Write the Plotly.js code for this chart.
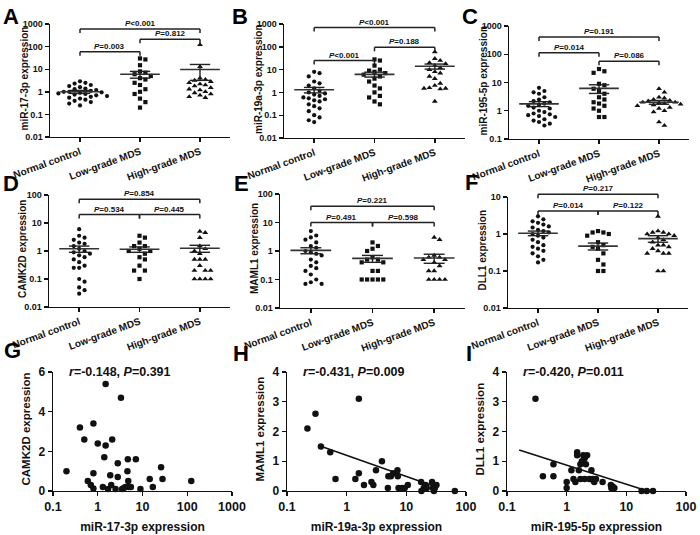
<!DOCTYPE html>
<html><head><meta charset="utf-8">
<script src="https://cdn.plot.ly/plotly-3.0.1.min.js"></script>
<style>html,body{margin:0;padding:0;background:#fff}#chart{width:700px;height:535px}</style>
</head><body><div id="chart"></div>
<script>
// ---------- DATA ----------
const groupNames = ["Normal control", "Low-grade MDS", "High-grade MDS"];

// A: miR-17-3p
const mir17Normal = [2.9, 2.5, 2.3, 2.0, 1.8, 1.6, 1.4, 1.3, 1.2, 1.1, 1.0, 1.0, 0.95, 0.9, 0.85, 0.8, 0.75, 0.7, 0.65, 0.6, 0.55, 0.5, 0.45, 0.4, 0.35, 0.3, 0.25];
const mir17Low = [30, 27, 15, 8, 7, 6, 5, 4, 3.5, 2.5, 2, 1.3, 1, 0.8, 0.5, 0.35, 0.2];
const mir17High = [120, 13, 4, 3.5, 3.2, 2.8, 2.5, 2.2, 2, 1.8, 1.5, 1.3, 1.2, 1.0, 0.9, 0.8, 0.7, 0.6, 0.55];
const mir17Mean = [1.0, 6.0, 9.7];
const mir17Sem = [0.15, 2.0, 6.5];
const mir17PLevels = [600, 59, 210];
const mir17PLabels = ["<i>P</i>&lt;0.001", "<i>P</i>=0.003", "<i>P</i>=0.812"];

// B: miR-19a-3p
const mir19Normal = [8, 7, 5, 3, 2.5, 2, 1.5, 1.2, 1.0, 0.9, 0.8, 0.7, 0.6, 0.55, 0.5, 0.45, 0.4, 0.3, 0.25, 0.2, 0.15, 0.1, 0.08, 0.06, 0.05];
const mir19Low = [28, 25, 15, 10, 9, 8, 7, 6, 5, 4, 3, 2, 1.5, 1.0, 0.7, 0.6, 0.4, 0.3];
const mir19High = [60, 30, 25, 20, 18, 15, 12, 10, 8, 7, 5, 4, 2.5, 2, 1.6, 1.5, 1.5, 1.4, 0.4];
const mir19Mean = [1.3, 6.2, 14];
const mir19Sem = [0.35, 1.5, 3.5];
const mir19PLevels = [700, 25, 95];
const mir19PLabels = ["<i>P</i>&lt;0.001", "<i>P</i>&lt;0.001", "<i>P</i>=0.188"];

// C: miR-195-5p
const mir195Normal = [6.5, 5, 4.5, 4, 3, 2.5, 2.2, 2, 1.8, 1.6, 1.5, 1.3, 1.2, 1.0, 0.9, 0.8, 0.75, 0.7, 0.65, 0.6, 0.5, 0.45, 0.4, 0.35, 0.3];
const mir195Low = [30, 25, 22, 9, 8, 6, 5, 4, 3, 2.5, 2, 1.8, 1.5, 1.2, 1, 0.6, 0.6];
const mir195High = [6, 4.5, 3, 2.8, 2.5, 2.3, 2.2, 2, 2, 1.9, 1.8, 1.7, 1.6, 1.5, 1.3, 1.2, 1.0, 0.9, 0.4, 0.3];
const mir195Mean = [1.75, 6.2, 2.0];
const mir195Sem = [0.35, 2.1, 0.3];
const mir195PLevels = [410, 112, 57];
const mir195PLabels = ["<i>P</i>=0.191", "<i>P</i>=0.014", "<i>P</i>=0.086"];

// D: CAMK2D
const camkNormal = [6, 3.5, 3, 2.5, 2, 1.8, 1.5, 1.2, 1.0, 0.9, 0.8, 0.7, 0.6, 0.5, 0.4, 0.3, 0.25, 0.25, 0.1, 0.08, 0.05, 0.04, 0.03];
const camkLow = [3.5, 3, 2, 1.5, 1.5, 1.2, 1.0, 1.0, 0.8, 0.6, 0.5, 0.3, 0.2, 0.2, 0.1];
const camkHigh = [5, 4.5, 3, 1.5, 1.2, 1.0, 0.8, 0.5, 0.5, 0.5, 0.3, 0.2, 0.2, 0.2, 0.1, 0.1, 0.1, 0.1];
const camkMean = [1.2, 1.15, 1.25];
const camkSem = [0.3, 0.25, 0.35];
const camkPLevels = [70, 20, 20];
const camkPLabels = ["<i>P</i>=0.854", "<i>P</i>=0.534", "<i>P</i>=0.445"];

// E: MAML1
const mamlNormal = [5, 3.5, 3, 2.5, 2, 1.5, 1.3, 1.0, 0.9, 0.8, 0.7, 0.5, 0.4, 0.3, 0.25, 0.2, 0.15, 0.1, 0.08, 0.07, 0.07];
const mamlLow = [2, 1.5, 1.2, 1.0, 0.6, 0.5, 0.5, 0.4, 0.4, 0.2, 0.2, 0.1, 0.1, 0.1, 0.1, 0.1];
const mamlHigh = [3, 2.5, 0.7, 0.6, 0.6, 0.5, 0.5, 0.4, 0.3, 0.2, 0.2, 0.1, 0.1, 0.1, 0.1];
const mamlMean = [1.05, 0.55, 0.57];
const mamlSem = [0.25, 0.15, 0.2];
const mamlPLevels = [37, 10, 10];
const mamlPLabels = ["<i>P</i>=0.221", "<i>P</i>=0.491", "<i>P</i>=0.598"];

// F: DLL1
const dllNormal = [3, 2.5, 2.2, 2, 1.8, 1.6, 1.5, 1.3, 1.2, 1.1, 1.0, 0.9, 0.8, 0.7, 0.6, 0.5, 0.45, 0.4, 0.35, 0.3, 0.25, 0.2, 0.17];
const dllLow = [1.2, 1.1, 1.1, 1.0, 0.9, 0.6, 0.5, 0.45, 0.4, 0.3, 0.2, 0.15, 0.1, 0.1];
const dllHigh = [3, 1.2, 1.1, 1.1, 1.0, 1.0, 0.9, 0.8, 0.7, 0.6, 0.5, 0.5, 0.45, 0.4, 0.35, 0.3, 0.3, 0.3, 0.1, 0.1];
const dllMean = [1.05, 0.47, 0.75];
const dllSem = [0.15, 0.1, 0.15];
const dllPLevels = [11.8, 4.2, 4.2];
const dllPLabels = ["<i>P</i>=0.217", "<i>P</i>=0.014", "<i>P</i>=0.122"];

// G: miR-17-3p vs CAMK2D
const gX = [0.2, 0.4, 0.5, 0.6, 0.7, 0.8, 0.8, 0.8, 1.0, 1.3, 1.4, 1.5, 1.5, 1.7, 1.9, 2.0, 2.1, 2.5, 2.8, 2.8, 3.3, 3.5, 3.9, 4.2, 4.6, 4.7, 4.8, 4.9, 5.5, 7.1, 9.0, 14.5, 17, 26, 28, 123];
const gY = [1.0, 3.2, 2.6, 0.5, 0.3, 0.9, 3.4, 0.13, 2.4, 0.2, 1.7, 2.3, 5.4, 0.1, 0.8, 0.3, 2.6, 0.1, 1.4, 0.7, 4.7, 0.1, 0.17, 0.2, 1.0, 1.6, 0.5, 0.2, 0.2, 1.6, 0.1, 0.6, 0.2, 1.2, 0.6, 0.5];
const gStat = "<i>r</i>=-0.148, <i>P</i>=0.391";

// H: miR-19a-3p vs MAML1
const hX = [0.22, 0.30, 0.37, 0.53, 0.65, 1.4, 1.6, 1.6, 1.95, 2.6, 2.8, 3.1, 3.9, 4.9, 5.0, 5.5, 6.0, 7.1, 7.2, 7.4, 8.5, 9.4, 10.6, 17.7, 17.9, 19.6, 21, 22, 27, 28, 29, 30, 32, 65];
const hY = [2.1, 2.6, 1.5, 1.3, 0.4, 0.4, 0.6, 3.1, 0.2, 0.3, 0.2, 0.7, 1.0, 0.1, 0.5, 0.5, 0.6, 0.7, 0.5, 0.1, 0.1, 0.1, 0.2, 0.3, 0.0, 0.1, 0.2, 0.1, 0.3, 0.1, 0.0, 0.1, 0.2, 0.0];
const hFitX = [0.36, 30];
const hFitY = [1.51, 0.15];
const hStat = "<i>r</i>=-0.431, <i>P</i>=0.009";

// I: miR-195-5p vs DLL1
const iX = [0.3, 0.4, 0.6, 0.6, 1.0, 1.0, 1.2, 1.3, 1.4, 1.5, 1.5, 1.6, 1.7, 1.7, 1.8, 1.9, 2.0, 2.0, 2.1, 2.2, 2.4, 2.6, 2.7, 2.8, 2.9, 3.1, 4.0, 5.5, 5.6, 5.9, 6.3, 18, 22, 28];
const iY = [3.1, 0.5, 0.9, 0.5, 0.3, 0.1, 0.7, 0.4, 0.3, 1.3, 1.2, 0.7, 0.4, 0.9, 1.0, 1.2, 0.4, 1.1, 0.9, 1.2, 0.4, 0.7, 0.4, 0.35, 0.3, 0.4, 0.3, 0.2, 0.1, 0.15, 0.1, 0.0, 0.0, 0.0];
const iFitX = [0.16, 19.5];
const iFitY = [1.38, 0.04];
const iStat = "<i>r</i>=-0.420, <i>P</i>=0.011";

// ---------- LAYOUT HELPERS ----------
const W = 700, H = 535;
const FONT = "Liberation Sans, Arial, Helvetica, sans-serif";
const INK = "#111";
const bracketPairs = [[0, 2], [0, 1], [1, 2]];
const markerSymbols = ["circle", "square", "triangle-up"];
const markerSizes = [4.2, 4.2, 5.2];

function dom(px0, px1) { return [px0 / W, px1 / W]; }
function domY(top, bottom) { return [1 - bottom / H, 1 - top / H]; }

const groupPanels = [
  {id: "", name: "miR-17-3p expression", groups: [mir17Normal, mir17Low, mir17High], mean: mir17Mean, sem: mir17Sem, pl: mir17PLevels, pt: mir17PLabels, yr: [-2, 3], xd: dom(50, 230), yd: domY(24, 137)},
  {id: "2", name: "miR-19a-3p expression", groups: [mir19Normal, mir19Low, mir19High], mean: mir19Mean, sem: mir19Sem, pl: mir19PLevels, pt: mir19PLabels, yr: [-2, 3], xd: dom(284, 465), yd: domY(24, 138)},
  {id: "3", name: "miR-195-5p expression", groups: [mir195Normal, mir195Low, mir195High], mean: mir195Mean, sem: mir195Sem, pl: mir195PLevels, pt: mir195PLabels, yr: [-1, 3], xd: dom(509, 689), yd: domY(26, 139)},
  {id: "4", name: "CAMK2D expression", groups: [camkNormal, camkLow, camkHigh], mean: camkMean, sem: camkSem, pl: camkPLevels, pt: camkPLabels, yr: [-2, 2], xd: dom(49, 230), yd: domY(195, 307)},
  {id: "5", name: "MAML1 expression", groups: [mamlNormal, mamlLow, mamlHigh], mean: mamlMean, sem: mamlSem, pl: mamlPLevels, pt: mamlPLabels, yr: [-2, 2], xd: dom(280, 465), yd: domY(194, 308)},
  {id: "6", name: "DLL1 expression", groups: [dllNormal, dllLow, dllHigh], mean: dllMean, sem: dllSem, pl: dllPLevels, pt: dllPLabels, yr: [-2, 1], xd: dom(508, 688), yd: domY(197, 308)}
];

const corrPanels = [
  {id: "7", x: gX, y: gY, fx: null, fy: null, stat: gStat, xname: "miR-17-3p expression", yname: "CAMK2D expression", xr: [-1, 3], xt: [0.1, 1, 10, 100, 1000], yr: [0, 6], yt: [0, 2, 4, 6], xd: dom(53, 232), yd: domY(372, 491)},
  {id: "8", x: hX, y: hY, fx: hFitX, fy: hFitY, stat: hStat, xname: "miR-19a-3p expression", yname: "MAML1 expression", xr: [-1, 2], xt: [0.1, 1, 10, 100], yr: [0, 4], yt: [0, 1, 2, 3, 4], xd: dom(287, 466), yd: domY(372, 491)},
  {id: "9", x: iX, y: iY, fx: iFitX, fy: iFitY, stat: iStat, xname: "miR-195-5p expression", yname: "DLL1 expression", xr: [-1, 2], xt: [0.1, 1, 10, 100], yr: [0, 4], yt: [0, 1, 2, 3, 4], xd: dom(507, 686), yd: domY(372, 491)}
];

// simple beeswarm in pixel space -> category-unit offsets
function swarm(vals, ppd, ppc, diam) {
  const order = vals.map((v, i) => i).sort((a, b) => vals[b] - vals[a]);
  const placed = [];
  const offs = new Array(vals.length).fill(0);
  for (const i of order) {
    const y = Math.log10(vals[i]) * ppd;
    let chosen = 0;
    for (let t = 0; t < 40; t++) {
      const off = t === 0 ? 0 : (t % 2 === 1 ? 1 : -1) * Math.ceil(t / 2) * diam;
      let ok = true;
      for (const p of placed) {
        const dx = off - p.x, dy = y - p.y;
        if (dx * dx + dy * dy < diam * diam * 0.95) { ok = false; break; }
      }
      if (ok) { chosen = off; break; }
    }
    placed.push({x: chosen, y: y});
    offs[i] = chosen / ppc;
  }
  return offs;
}

const data = [];
const layout = {
  width: W, height: H, margin: {l: 0, r: 0, t: 0, b: 0},
  paper_bgcolor: "#fff", plot_bgcolor: "rgba(0,0,0,0)",
  showlegend: false, font: {family: FONT, color: INK},
  shapes: [], annotations: []
};

function baseAxis() {
  return {showline: true, linecolor: INK, linewidth: 1.4, ticks: "outside", ticklen: 4, tickwidth: 1.4, tickcolor: INK,
    showgrid: false, zeroline: false, mirror: false, fixedrange: true};
}

function yTitle(text, xd, yd, gap, size) {
  layout.annotations.push({xref: "paper", yref: "paper", x: xd[0] - gap / W, y: (yd[0] + yd[1]) / 2 + 2 / H,
    xanchor: "center", yanchor: "middle", textangle: -90, showarrow: false, text: text,
    font: {family: FONT, size: size, weight: "bold", color: INK}});
}

groupPanels.forEach(p => {
  const xa = "x" + p.id, ya = "y" + p.id;
  const hpx = (p.yd[1] - p.yd[0]) * H, wpx = (p.xd[1] - p.xd[0]) * W;
  const ppd = hpx / (p.yr[1] - p.yr[0]);
  const ppc = wpx / 3;
  p.groups.forEach((vals, g) => {
    const offs = swarm(vals, ppd, ppc, 5.4);
    data.push({type: "scatter", mode: "markers", xaxis: xa, yaxis: ya, cliponaxis: false,
      x: vals.map((v, i) => g + offs[i]), y: vals,
      marker: {symbol: markerSymbols[g], size: markerSizes[g], color: INK, line: {width: 0}}, hoverinfo: "skip"});
  });
  // mean and SEM
  const mx = [], my = [], sx = [], sy = [];
  p.mean.forEach((m, g) => {
    mx.push(g - 0.33, g + 0.33, null); my.push(m, m, null);
    const lo = m - p.sem[g], hi = m + p.sem[g];
    sx.push(g - 0.17, g + 0.17, null, g, g, null, g - 0.17, g + 0.17, null);
    sy.push(hi, hi, null, hi, lo, null, lo, lo, null);
  });
  data.push({type: "scatter", mode: "lines", xaxis: xa, yaxis: ya, x: mx, y: my, line: {color: "#333", width: 1.6}, hoverinfo: "skip"});
  data.push({type: "scatter", mode: "lines", xaxis: xa, yaxis: ya, x: sx, y: sy, line: {color: "#222", width: 1.4}, hoverinfo: "skip"});

  const keyX = "xaxis" + p.id, keyY = "yaxis" + p.id;
  layout[keyX] = Object.assign(baseAxis(), {domain: p.xd, anchor: ya, range: [-0.5, 2.5],
    tickmode: "array", tickvals: [0, 1, 2], ticktext: groupNames, tickangle: -20,
    tickfont: {family: FONT, size: 10, weight: "bold", color: INK}});
  const yt = [0.01, 0.1, 1, 10, 100, 1000].filter(v => Math.log10(v) >= p.yr[0] - 1e-9 && Math.log10(v) <= p.yr[1] + 1e-9);
  layout[keyY] = Object.assign(baseAxis(), {domain: p.yd, anchor: xa, type: "log", range: p.yr,
    tickmode: "array", tickvals: yt, ticktext: yt.map(v => String(v)),
    tickfont: {family: FONT, size: 9, weight: "bold", color: INK}});
  yTitle(p.name, p.xd, p.yd, 26, 10);

  // brackets
  const tick = 4 / hpx;
  bracketPairs.forEach((pr, k) => {
    const yd = (Math.log10(p.pl[k]) - p.yr[0]) / (p.yr[1] - p.yr[0]);
    const x0 = (pr[0] + 0.5) / 3, x1 = (pr[1] + 0.5) / 3;
    const ln = {color: "#222", width: 1.5};
    const ref = {xref: xa + " domain", yref: ya + " domain", layer: "above"};
    layout.shapes.push(Object.assign({type: "line", x0: x0, x1: x1, y0: yd, y1: yd, line: ln}, ref));
    layout.shapes.push(Object.assign({type: "line", x0: x0, x1: x0, y0: yd, y1: yd - tick, line: ln}, ref));
    layout.shapes.push(Object.assign({type: "line", x0: x1, x1: x1, y0: yd, y1: yd - tick, line: ln}, ref));
    layout.annotations.push({xref: xa + " domain", yref: ya + " domain", x: (x0 + x1) / 2, y: yd, yshift: 0,
      xanchor: "center", yanchor: "bottom", showarrow: false, text: p.pt[k], borderpad: 0,
      font: {family: FONT, size: 8, weight: "bold", color: INK}});
  });
});

corrPanels.forEach(p => {
  const xa = "x" + p.id, ya = "y" + p.id;
  data.push({type: "scatter", mode: "markers", xaxis: xa, yaxis: ya, x: p.x, y: p.y, cliponaxis: false,
    marker: {symbol: "circle", size: 6.5, color: INK}, hoverinfo: "skip"});
  if (p.fx) {
    data.push({type: "scatter", mode: "lines", xaxis: xa, yaxis: ya, x: p.fx, y: p.fy, line: {color: INK, width: 1.6}, hoverinfo: "skip"});
  }
  layout["xaxis" + p.id] = Object.assign(baseAxis(), {domain: p.xd, anchor: ya, type: "log", range: p.xr,
    tickmode: "array", tickvals: p.xt, ticktext: p.xt.map(v => String(v)),
    tickfont: {family: FONT, size: 12.5, weight: "bold", color: INK},
    title: {text: p.xname, font: {family: FONT, size: 12, weight: "bold", color: INK}, standoff: 9}});
  layout["yaxis" + p.id] = Object.assign(baseAxis(), {domain: p.yd, anchor: xa, range: p.yr,
    tickmode: "array", tickvals: p.yt, ticktext: p.yt.map(v => String(v)),
    tickfont: {family: FONT, size: 12, weight: "bold", color: INK}});
  yTitle(p.yname, p.xd, p.yd, 28, 11.5);
  layout.annotations.push({xref: xa + " domain", yref: ya + " domain", x: 0.08, y: 1.0, xanchor: "left", yanchor: "middle",
    showarrow: false, text: p.stat, font: {family: FONT, size: 12.5, weight: "bold", color: INK}});
});

// panel letters
const panelLetters = ["A", "B", "C", "D", "E", "F", "G", "H", "I"];
const letterPos = [[11, 16], [240, 16], [470, 16], [11, 183], [241, 183], [471, 182], [12, 350], [241, 353], [469, 353]];
panelLetters.forEach((L, i) => {
  layout.annotations.push({xref: "paper", yref: "paper", x: letterPos[i][0] / W, y: 1 - letterPos[i][1] / H,
    xanchor: "center", yanchor: "middle", showarrow: false, text: L,
    font: {family: FONT, size: 22, weight: "bold", color: "#000"}});
});

Plotly.newPlot("chart", data, layout, {staticPlot: true, displayModeBar: false});
</script>
</body></html>
